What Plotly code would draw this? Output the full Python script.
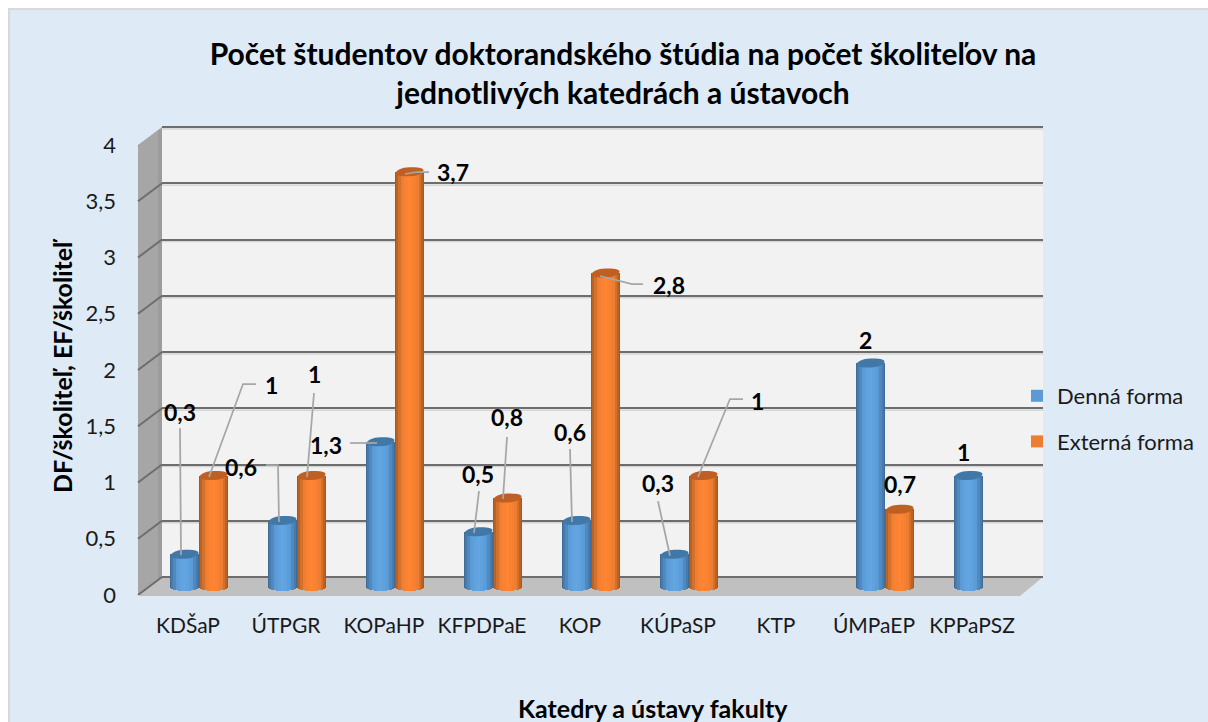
import plotly.graph_objects as go
from math import sqrt

W, H = 1208, 722

categories = ["KDŠaP", "ÚTPGR", "KOPaHP", "KFPDPaE", "KOP", "KÚPaSP", "KTP", "ÚMPaEP", "KPPaPSZ"]
denna = [0.3, 0.6, 1.3, 0.5, 0.6, 0.3, None, 2, 1]
externa = [1, 1, 3.7, 0.8, 2.8, 1, None, 0.7, None]
y_ticks = [0, 0.5, 1, 1.5, 2, 2.5, 3, 3.5, 4]
y_ticktext = ["0", "0,5", "1", "1,5", "2", "2,5", "3", "3,5", "4"]

title_text = "Počet študentov doktorandského štúdia na počet školiteľov na<br>jednotlivých katedrách a ústavoch"
y_title = "DF/školiteľ, EF/školiteľ"
x_title = "Katedry a ústavy fakulty"

# label offsets in pixels from the top of each cylinder, and leader-line bends
denna_label = [(-4.5, -142), (-41.5, -53.5), (-54.5, 3.25), (-0.5, -57.75), (-6.5, -88.5), (-16.5, -71), None, (-5.5, -23), (-5.5, -23.5)]
externa_label = [(57.5, -90.5), (2.5, -101.5), (43.5, 0.25), (-0.5, -81), (63.5, 12), (53.5, -74.5), None, (0.5, -25), None]
denna_leader = [
    [(-3.5, 0.75), (-4.5, -126)],
    [(-3.5, 1.5), (-4.5, -55.5), (-16.5, -55.5)],
    [(-3.5, 1.25), (-30.5, 1.25)],
    [(-4.5, 1.25), (0.5, -40.75)],
    [(-4.5, 1.5), (-6.5, -71.5)],
    [(-4.5, 1.5), (-16.5, -53)],
    None, None, None,
]
externa_leader = [
    [(-4.5, 1.5), (29.5, -91.5), (42.5, -91.5)],
    [(-4.5, 1.5), (2.5, -82.5)],
    [(-4.5, 2.25), (7.5, 0.25), (19.5, 0.25)],
    [(-4.5, 1), (-0.5, -61)],
    [(-5.5, 3), (26.5, 11), (37.5, 11)],
    [(-5.5, 1.5), (26.5, -76.5), (39.5, -76.5)],
    None, None, None,
]

strip_fracs = [1.0, 0.9, 0.78, 0.62, 0.45, 0.28, 0.12]
blue_shades = ["#3d6c99", "#477bad", "#4f89bf", "#5b9bd5", "#5c9ed9", "#5fa2de", "#62a5e1"]
orange_shades = ["#a55820", "#b96224", "#d3702b", "#ed7d31", "#f67f30", "#fb8231", "#fe8533"]
blue_top, orange_top = "#4278a8", "#bf5f23"
BAR_W = 0.296
UNIT_PX = 112.5
GRID_PAD = 0.02
BAR_PAD = 0.04


def px(x):
    return x / W


def py(y):
    return 1 - y / H


fig = go.Figure()

# invisible carriers for front axis and back-wall grid
fig.add_trace(go.Scatter(x=categories, y=[0] * len(categories), mode="none", showlegend=False,
                         hoverinfo="skip", xaxis="x", yaxis="y"))
fig.add_trace(go.Scatter(x=categories, y=[0] * len(categories), mode="none", showlegend=False,
                         hoverinfo="skip", xaxis="x2", yaxis="y2"))


def add_series(name, values, shades, center):
    for f, c in zip(strip_fracs, shades):
        w = BAR_W * f
        drop = 3 / UNIT_PX * sqrt(max(0, 1 - f * f))
        fig.add_trace(go.Bar(
            x=categories,
            y=[None if v is None else v + drop for v in values],
            base=[-drop] * len(values),
            width=w,
            offset=center - w / 2,
            name=name,
            legendgroup=name,
            showlegend=(c in ("#5b9bd5", "#ed7d31")),
            marker=dict(color=c, line=dict(width=0)),
            cliponaxis=False,
            hovertemplate=name + " %{x}: %{y}<extra></extra>",
            xaxis="x3", yaxis="y3",
        ))


add_series("Denná forma", denna, blue_shades, -BAR_W / 2)
add_series("Externá forma", externa, orange_shades, BAR_W / 2)

shapes = []
annotations = []

# chart area
shapes.append(dict(type="rect", xref="paper", yref="paper", x0=px(9), x1=px(1212), y0=py(9), y1=py(726),
                   fillcolor="#deeaf6", line=dict(color="#d9d9d9", width=2), layer="below"))
# back wall
shapes.append(dict(type="rect", xref="paper", yref="paper", x0=px(162), x1=px(1043), y0=py(127), y1=py(577),
                   fillcolor="#f2f2f2", line=dict(width=0), layer="below"))
# left wall
shapes.append(dict(type="path", xref="paper", yref="paper",
                   path=f"M{px(138)},{py(145)} L{px(162)},{py(127)} L{px(162)},{py(577)} L{px(138)},{py(595)} Z",
                   fillcolor="#a6a6a6", line=dict(width=0), layer="below"))
shapes.append(dict(type="rect", xref="paper", yref="paper", x0=px(158), x1=px(162), y0=py(130), y1=py(580),
                   fillcolor="#9c9c9c", line=dict(width=0), layer="below"))
# floor
shapes.append(dict(type="path", xref="paper", yref="paper",
                   path=f"M{px(162)},{py(577)} L{px(1043)},{py(577)} L{px(1020)},{py(596)} L{px(138)},{py(596)} Z",
                   fillcolor="#c0c0c0", line=dict(width=0), layer="below"))
# gridline highlights and the diagonal ticks on the left wall
for t in y_ticks:
    if t > 0:
        shapes.append(dict(type="line", xref="paper", yref="y2", x0=px(162), x1=px(1043),
                           y0=t - 2 / UNIT_PX, y1=t - 2 / UNIT_PX, line=dict(color="#d4d4d4", width=1.5), layer="below"))
    shapes.append(dict(type="line", xref="paper", yref="y", x0=px(138), x1=px(162),
                       y0=t, y1=t + 18 / UNIT_PX, line=dict(color="#6d6d6d", width=2), layer="below"))


def ellipse_path(a=14, b=4.5, tilt=1.5):
    # pixel path round (0,0); y positive is upward in pixel-sized shapes
    k = 0.5523
    pts = [(-a, -tilt), (-a, -tilt + k * b), (-k * a, b), (0, b),
           (k * a, b), (a, tilt + k * b), (a, tilt),
           (a, tilt - k * b), (k * a, -b), (0, -b),
           (-k * a, -b), (-a, -tilt - k * b), (-a, -tilt)]
    s = f"M{pts[0][0]},{pts[0][1]} "
    for i in range(1, len(pts), 3):
        s += "C" + " ".join(f"{p[0]},{p[1]}" for p in pts[i:i + 3]) + " "
    return s + "Z"


def add_decor(values, labels, leaders, center, top_color):
    for i, v in enumerate(values):
        if v is None:
            continue
        xa = i + center
        shapes.append(dict(type="path", xref="x3", yref="y3", xsizemode="pixel", ysizemode="pixel",
                           xanchor=xa, yanchor=v, path=ellipse_path(), fillcolor=top_color,
                           line=dict(width=0), layer="above"))
    for i, v in enumerate(values):
        if v is None:
            continue
        xa = i + center
        if leaders[i]:
            pts = leaders[i]
            path = "M" + " L".join(f"{dx},{-dy}" for dx, dy in pts)
            shapes.append(dict(type="path", xref="x3", yref="y3", xsizemode="pixel", ysizemode="pixel",
                               xanchor=xa, yanchor=v, path=path,
                               line=dict(color="#a6a6a6", width=1.75), layer="above"))
        dx, dy = labels[i]
        annotations.append(dict(x=xa, y=v, xref="x3", yref="y3", xshift=dx, yshift=-dy,
                                text=f"<b>{str(v).replace('.', ',')}</b>", showarrow=False,
                                font=dict(family="Lato", size=23, color="#000000"),
                                xanchor="center", yanchor="middle"))


add_decor(denna, denna_label, denna_leader, -BAR_W / 2, blue_top)
add_decor(externa, externa_label, externa_leader, BAR_W / 2, orange_top)

annotations.append(dict(x=px(62), y=py(366), xref="paper", yref="paper", text=f"<b>{y_title}</b>", textangle=-90,
                        showarrow=False, font=dict(family="Lato", size=25, color="#000000"),
                        xanchor="center", yanchor="middle"))
annotations.append(dict(x=px(653), y=py(708), xref="paper", yref="paper", text=f"<b>{x_title}</b>",
                        showarrow=False, font=dict(family="Lato", size=25, color="#000000"),
                        xanchor="center", yanchor="middle"))

tick_font = dict(family="Lato", size=21, color="#1a1a1a")

fig.update_layout(
    width=W, height=H,
    margin=dict(l=0, r=0, t=0, b=0),
    autosize=False,
    paper_bgcolor="#ffffff",
    plot_bgcolor="rgba(0,0,0,0)",
    barmode="overlay",
    bargap=0,
    title=dict(text=f"<b>{title_text}</b>", x=623 / W, xanchor="center", y=py(65), yanchor="top",
               font=dict(family="Lato", size=30, color="#000000")),
    xaxis=dict(domain=[px(139), px(1021)], type="category", categoryorder="array", categoryarray=categories,
               range=[-0.5, 8.5], showgrid=False, zeroline=False, showline=False, ticks="", automargin=False,
               tickfont=tick_font, ticklabelstandoff=16, anchor="y", fixedrange=True),
    yaxis=dict(domain=[py(595), py(145)], range=[0, 4], tickmode="array", tickvals=y_ticks, ticktext=y_ticktext,
               showgrid=False, zeroline=False, showline=False, ticks="", automargin=False,
               tickfont=dict(family="Lato", size=22, color="#1a1a1a"),
               ticklabelstandoff=22, anchor="x", fixedrange=True),
    xaxis2=dict(domain=[px(162), px(1043)], type="category", categoryorder="array", categoryarray=categories,
                range=[-0.5, 8.5], showgrid=False, zeroline=False, showticklabels=False, ticks="", anchor="y2",
                automargin=False, fixedrange=True),
    yaxis2=dict(domain=[py(577 + GRID_PAD * UNIT_PX), py(127 - GRID_PAD * UNIT_PX)],
                range=[-GRID_PAD, 4 + GRID_PAD], tickmode="array", tickvals=y_ticks, showticklabels=False,
                showgrid=True, gridcolor="#6d6d6d", gridwidth=2, zeroline=False, ticks="", anchor="x2",
                automargin=False, fixedrange=True),
    xaxis3=dict(domain=[px(150), px(1032)], type="category", categoryorder="array", categoryarray=categories,
                range=[-0.5, 8.5], showgrid=False, zeroline=False, showticklabels=False, ticks="", anchor="y3",
                automargin=False, fixedrange=True),
    yaxis3=dict(domain=[py(588 + BAR_PAD * UNIT_PX), py(138)], range=[-BAR_PAD, 4], showgrid=False, zeroline=False,
                showticklabels=False, ticks="", anchor="x3", automargin=False, fixedrange=True),
    legend=dict(x=px(1017), y=py(375), xanchor="left", yanchor="top", bgcolor="rgba(0,0,0,0)",
                font=dict(family="Lato", size=22, color="#1a1a1a"), tracegroupgap=14,
                traceorder="grouped", itemclick=False, itemdoubleclick=False),
    shapes=shapes,
    annotations=annotations,
)

fig.write_html("out.html", config={"displayModeBar": False},
               post_script="document.body.style.margin='0';document.body.style.overflow='hidden';")
